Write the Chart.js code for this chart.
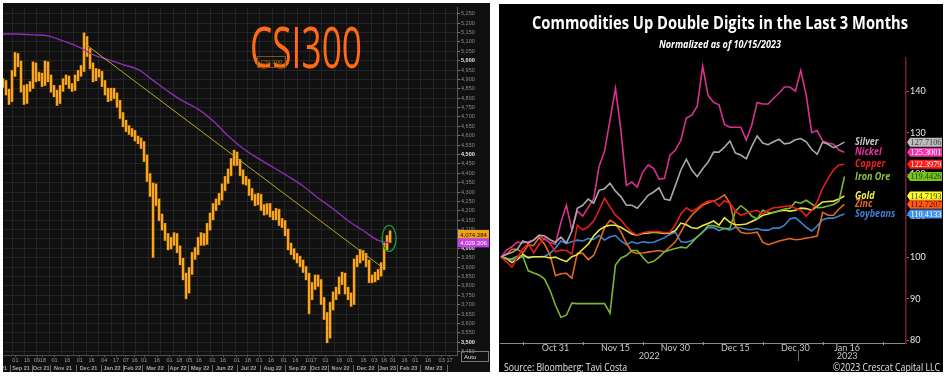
<!DOCTYPE html>
<html>
<head>
<meta charset="utf-8">
<script src="https://cdn.jsdelivr.net/npm/chart.js@4.4.1/dist/chart.umd.min.js"></script>
<style>
  html, body { margin: 0; padding: 0; background: #fff; }
  body { width: 949px; height: 377px; position: relative; overflow: hidden; }
  #csiBox { position: absolute; left: 3px; top: 3px; width: 487px; height: 369px; background: #101010; }
  #comBox { position: absolute; left: 499px; top: 4px; width: 444px; height: 368px; background: #000; }
  canvas { display: block; }
</style>
</head>
<body>
<div id="csiBox"><canvas id="csi" width="487" height="369"></canvas></div>
<div id="comBox"><canvas id="com" width="444" height="368"></canvas></div>
<script>
// ---------- CSI 300 (left panel) ----------
// one bar = about 2.7 trading days, Aug 2021 -> Jan 2023
const csiLow = [4855,4815,4765,4780,4915,4965,4830,4765,4770,4835, 4850,4885,4890,4860,4865,4885,4830,4805,4760,4770,
  4835,4870,4850,4835,4840,4890,4915,4940,5020,4955, 4885,4890,4910,4860,4815,4780,4785,4795,4750,4690,
  4645,4620,4605,4595,4570,4555,4530,4460,4355,4275, 3950,4225,4145,4095,4040,3990,3995,4015,3975,3910,
  3830,3730,3760,3860,3940,3965,4015,4015,4020,4095, 4150,4200,4230,4255,4305,4345,4385,4440,4440,4385,
  4340,4335,4280,4255,4225,4230,4200,4175,4180,4165, 4150,4150,4120,4110,4065,3990,3965,3940,3920,3900,
  3870,3830,3650,3725,3780,3795,3700,3620,3495,3520, 3670,3725,3755,3805,3755,3725,3690,3700,3900,3920,
  3935,3900,3815,3815,3820,3830,3850,3885,3990,4030];
const csiHigh = [4905,4895,4850,4950,5045,5040,5000,4870,4875,4890, 4995,4990,4940,4935,5000,4995,4925,4870,4845,4870,
  4905,4925,4920,4880,4925,4950,4975,5150,5130,5065, 4990,4960,4955,4945,4895,4855,4855,4855,4830,4790,
  4725,4685,4655,4640,4630,4600,4590,4570,4500,4400, 4350,4345,4265,4185,4135,4080,4060,4085,4080,4015,
  3950,3870,3900,3980,4005,4060,4085,4080,4135,4190, 4240,4265,4295,4345,4385,4425,4480,4525,4515,4475,
  4420,4385,4370,4320,4290,4295,4290,4235,4240,4240, 4200,4215,4210,4160,4150,4105,4030,4000,3975,3960,
  3940,3905,3870,3820,3860,3860,3835,3740,3660,3715, 3770,3795,3850,3875,3870,3795,3765,3945,3965,3995,
  3990,3975,3940,3860,3875,3890,3925,4030,4070,4095];
const csiLastClose = 4074.384;
const maIndex = [0,5,10,15,20,25,30,35,40,45,50,55,60,65,70,75,80,85,90,95,100,105,110,115,120,125,129];
const maValues = [5142,5142,5137,5132,5105,5074,5032,5005,4979,4953,4895,4837,4784,4742,4679,4600,4532,4479,4432,4384,4332,4268,4211,4147,4095,4042,4029.306];
const trendIndex = [27.3, 126.7];
const trendValues = [5090, 3895];
const dayTickPos = [2.3,6.3,9.7,11.7,15.7,20,24.3,28.3,32.7,36.7,40,43,46.3,50.7,55,58.3,61.7,65,69.7,73.3,
  78,81.7,85.7,89.7,94,98,102.3,104.3,108.3,113,116.7,121.3,125,128.3,131.3,135.3,139,143.3,148,150.7];
const dayTickLabels = ['01','16','09','18','01','16','01','16','04','17','07','16','01','16','01','18','05','16','01','16',
  '01','18','01','16','01','16','10','17','01','16','01','16','03','16','01','16','01','16','03','17'];
const monthStartPos = [-5.7,2.3,9.7,15.7,24.3,32.7,40,46.3,55,61.7,69.7,78,85.7,94,102.3,108.3,116.7,125,131.3,139,148];
const monthLabels = ['Aug 21','Sep 21','Oct 21','Nov 21','Dec 21','Jan 22','Feb 22','Mar 22','Apr 22','May 22',
  'Jun 22','Jul 22','Aug 22','Sep 22','Oct 22','Nov 22','Dec 22','Jan 23','Feb 23','Mar 23'];

const X_MAX = 151.3;
const Y_MIN = 3432, Y_MAX = 5284;
const isMajor = c => !!(c && c.tick && c.tick.value % 500 === 0);

const csiDecor = {
  id: 'csiDecor',
  afterDraw(chart) {
    const { ctx, chartArea, scales: { x, y } } = chart;
    ctx.save();

    // month row: separators and centred labels
    ctx.strokeStyle = '#6a6a6a';
    ctx.lineWidth = 1;
    ctx.fillStyle = '#a8a8a8';
    ctx.font = 'bold 5.5px "Liberation Sans"';
    ctx.textAlign = 'center';
    ctx.textBaseline = 'middle';
    monthStartPos.forEach((p, i) => {
      const px = Math.round(x.getPixelForValue(p)) + 0.5;
      if (px > 1 && px < chartArea.right) {
        ctx.beginPath(); ctx.moveTo(px, 362); ctx.lineTo(px, 369); ctx.stroke();
      }
      if (i < monthLabels.length) {
        const mid = (p + monthStartPos[i + 1]) / 2;
        ctx.fillText(monthLabels[i], x.getPixelForValue(mid), 365.5);
      }
    });

    // green circle on the breakout
    ctx.strokeStyle = '#1f9a2a';
    ctx.lineWidth = 1.3;
    ctx.beginPath();
    ctx.ellipse(x.getPixelForValue(csiLow.length - 1) - 1, y.getPixelForValue(csiLastClose) + 4, 7, 13, 0, 0, Math.PI * 2);
    ctx.stroke();

    // handwritten label
    ctx.fillStyle = '#ff6a12';
    ctx.font = '56px "Open Sans"';
    ctx.textAlign = 'left';
    ctx.textBaseline = 'alphabetic';
    const hw = 'CSI300';
    const sw = 112 / ctx.measureText(hw).width;
    ctx.save();
    ctx.translate(247, 65);
    ctx.scale(sw, 1);
    ctx.fillText(hw, 0, 0);
    ctx.restore();

    // small legend box
    ctx.strokeStyle = '#7a5412';
    ctx.lineWidth = 1;
    ctx.strokeRect(254.5, 53.5, 28, 11);
    ctx.fillStyle = '#a8741c';
    ctx.font = '6px "Liberation Sans"';
    ctx.textAlign = 'center';
    ctx.textBaseline = 'middle';
    ctx.fillText('CSI 300', 268.5, 59.5);

    // last-value tags
    const tagX = chartArea.right + 1;
    const drawTag = (val, fill, color, text) => {
      const ty = y.getPixelForValue(val);
      ctx.fillStyle = fill;
      ctx.fillRect(tagX, ty - 4.5, 31, 9);
      ctx.fillStyle = color;
      ctx.font = '6px "Liberation Sans"';
      ctx.textAlign = 'center';
      ctx.fillText(text, tagX + 15.5, ty + 0.5);
    };
    drawTag(csiLastClose, '#f0a21c', '#1a1200', csiLastClose.toLocaleString('en-US', { minimumFractionDigits: 3 }));
    const maLast = maValues[maValues.length - 1];
    drawTag(maLast, '#c23ee6', '#ffffff', maLast.toLocaleString('en-US', { minimumFractionDigits: 3 }));

    // Auto box
    ctx.strokeStyle = '#7a7a7a';
    ctx.strokeRect(458.5, 348.5, 27, 10);
    ctx.fillStyle = '#d8d8d8';
    ctx.font = '6px "Liberation Sans"';
    ctx.textAlign = 'left';
    ctx.fillText('Auto', 461, 354);
    ctx.restore();
  }
};

new Chart(document.getElementById('csi').getContext('2d'), {
  type: 'bar',
  data: {
    datasets: [
      {
        type: 'line',
        label: 'Trend',
        data: trendIndex.map((v, i) => ({ x: v, y: trendValues[i] })),
        borderColor: '#b3aa1c',
        borderWidth: 1,
        pointRadius: 0,
        order: 1
      },
      {
        type: 'line',
        label: 'MA',
        data: maIndex.map((v, i) => ({ x: v, y: maValues[i] })),
        borderColor: '#8e2db2',
        borderWidth: 1.4,
        pointRadius: 0,
        cubicInterpolationMode: 'monotone',
        order: 2
      },
      {
        type: 'bar',
        label: 'CSI 300',
        data: csiHigh.map((h, i) => ({ x: i, y: [csiLow[i], h] })),
        backgroundColor: '#f7a71e',
        borderColor: '#9c5c06',
        borderWidth: 0.6,
        borderSkipped: false,
        barThickness: 2.7,
        order: 3
      }
    ]
  },
  options: {
    responsive: false,
    animation: false,
    layout: { padding: 0 },
    plugins: { legend: { display: false }, tooltip: { enabled: false } },
    scales: {
      x: {
        type: 'linear', min: 0, max: X_MAX, offset: false,
        afterBuildTicks: s => {
          const t = [];
          for (let v = 3; v <= X_MAX; v += 4.13) t.push({ value: v });
          s.ticks = t;
        },
        ticks: { display: false },
        grid: { color: '#242424', offset: false, drawTicks: false },
        border: { display: true, color: '#4c4c4c' },
        afterFit: s => { s.height = 0; }
      },
      xd: {
        type: 'linear', position: 'bottom', weight: 1, min: 0, max: X_MAX,
        afterBuildTicks: s => { s.ticks = dayTickPos.map(v => ({ value: v })); },
        ticks: {
          callback: (v, i) => dayTickLabels[i],
          color: '#9a9a9a', font: { family: 'Liberation Sans', size: 5.5 },
          padding: 0, autoSkip: false, maxRotation: 0
        },
        grid: { display: true, drawOnChartArea: false, drawTicks: true, tickLength: 2, tickColor: '#666', offset: false },
        border: { display: false },
        afterFit: s => { s.height = 17; }
      },
      y: {
        position: 'right', min: Y_MIN, max: Y_MAX,
        afterBuildTicks: s => {
          const t = [];
          for (let v = 3450; v <= 5250; v += 50) t.push({ value: v });
          s.ticks = t;
        },
        ticks: {
          autoSkip: false, padding: 1,
          color: c => (isMajor(c) ? '#e4e4e4' : '#8c8c8c'),
          font: c => ({ family: 'Liberation Sans', size: 5.5, weight: isMajor(c) ? 'bold' : 'normal' }),
          callback: v => v.toLocaleString('en-US')
        },
        grid: { color: '#242424', tickLength: 3, tickColor: '#7a7a7a' },
        border: { display: true, color: '#5a5a5a' },
        afterFit: s => { s.width = 33; }
      }
    }
  },
  plugins: [csiDecor]
});

// ---------- Commodities (right panel) ----------
const comNames = ['Silver', 'Nickel', 'Copper', 'Iron Ore', 'Gold', 'Zinc', 'Soybeans'];
const silver = [100,100.7,101.1,101.9,103.9,103.4,104.1,105.3,105.1,104.2,103.6,104.8,103.4,106.3,111.8,112.5,114.0,113.0,116.1,116.5,
  117.8,115.9,114.6,112.5,112.5,111.8,113.3,114.9,115.7,116.7,114.0,113.7,117.3,121.0,123.6,121.0,119.4,121.3,122.9,125.3,
  125.3,126.5,128.0,125.1,124.6,123.7,126.7,129.2,127.5,127.1,127.8,128.4,127.3,127.5,128.3,128.6,127.8,126.0,124.8,127.7,
  127.2,126.4,127.0,127.7106];
const nickel = [100,101.7,102.5,103.6,103.4,103.7,104.1,105.2,104.3,103.5,103.1,108.4,112.5,106.5,111.1,109.9,112.0,114.0,121.9,125.5,
  133.0,140.7,130.6,117.3,118.1,116.9,120.5,122.2,121.4,118.8,119.0,124.6,125.8,128.2,133.5,134.2,136.4,146.0,139.0,137.3,
  136.7,132.0,131.3,131.3,131.3,128.2,131.8,137.3,136.9,136.9,138.3,139.5,141.0,141.0,140.0,145.0,139.0,130.0,130.5,128.0,
  127.5,127.2,125.8,125.3001];
const copper = [100,98.9,97.6,99.8,102.0,103.3,101.0,103.1,104.6,103.3,101.3,101.7,101.6,100.7,107.7,106.6,107.3,108.7,111.3,114.2,
  112.1,110.1,109.0,107.3,106.0,105.3,105.9,106.1,106.1,106.1,105.9,106.0,107.8,110.4,111.9,111.0,111.8,112.8,113.5,113.6,
  112.3,113.6,113.0,111.1,110.1,110.6,111.0,111.3,110.4,111.3,111.9,112.0,112.2,112.4,111.8,111.3,109.9,111.3,113.3,116.6,
  119.0,121.0,122.2,122.3979];
const ironOre = [100,99.5,99.6,100.2,100.2,96.7,96.2,95.7,94.7,92.0,88.4,85.5,86.0,88.9,88.8,88.8,88.8,88.8,88.8,88.8,
  86.5,98.1,99.8,100.4,101.6,101.6,100.0,98.6,99.0,100.0,101.3,101.7,102.1,102.4,102.2,103.5,104.9,106.0,107.6,107.6,
  107.2,106.9,106.9,111.1,112.4,111.4,109.9,109.2,111.3,110.8,110.7,111.2,111.6,111.8,113.3,113.0,113.7,112.8,111.9,112.0,
  112.3,112.7,113.5,119.4426];
const gold = [100,99.7,98.7,99.4,100.7,99.8,100.1,100.1,100.1,99.8,100.0,99.4,98.9,100.1,100.6,101.9,103.1,105.1,106.5,107.3,
  107.7,107.7,107.2,106.4,105.6,105.3,105.7,105.8,106.0,105.9,105.7,105.8,106.4,108.2,107.8,107.1,106.9,107.6,108.1,108.7,
  107.7,109.5,108.4,107.8,107.8,108.0,108.6,109.2,110.1,110.4,110.8,111.1,111.3,111.1,111.3,111.8,111.7,111.3,112.3,113.3,
  113.4,113.5,114.0,114.7193];
const zinc = [100,100.7,101.9,101.9,101.0,102.9,102.8,104.7,103.1,100.5,95.5,96.0,96.1,94.9,100.9,100.9,99.4,100.4,103.6,107.1,
  108.9,108.1,106.1,103.4,101.3,100.9,101.0,101.2,101.4,101.6,101.3,102.5,103.7,106.1,108.4,110.1,111.4,112.5,113.1,113.5,
  114.1,115.0,113.0,107.5,106.0,105.7,105.8,106.0,103.6,103.0,103.4,103.9,104.2,104.5,104.2,104.3,104.6,104.8,105.1,110.8,
  110.1,110.1,111.6,112.7207];
const soybeans = [100,99.7,99.3,99.7,100.1,100.1,100.1,100.1,100.2,100.9,102.2,103.9,103.3,103.7,104.1,103.9,104.5,104.3,105.2,104.1,
  104.9,105.2,103.9,103.0,103.7,103.3,103.7,103.5,103.6,104.1,104.7,105.5,106.0,103.7,103.6,104.0,104.8,106.1,107.1,107.1,
  106.4,106.9,106.5,107.2,107.1,106.7,106.6,106.9,106.5,106.5,107.0,107.0,107.7,109.2,109.5,108.4,107.2,106.3,107.5,109.0,
  109.4,109.4,109.9,110.4133];
const comSeries = [silver, nickel, copper, ironOre, gold, zinc, soybeans];
// x axis: business-day index from 10/14/2022
const xLabelPos = [10, 21, 32, 43, 54, 63.5];
const xLabels = ['Oct 31', 'Nov 15', 'Nov 30', 'Dec 15', 'Dec 30', 'Jan 16'];
const xMinorPos = [4, 15, 26.1, 37.1, 48.1, 59.1, 70.1];
const yearPos = [27.2, 63.5];
const yearLabels = ['2022', '2023'];
const yearBreak = 54.4;

const lineColors = ['#a9a9a9', '#d8328f', '#e41e1e', '#79b631', '#e9e543', '#e3691f', '#3c84d6'];
const nameColors = ['#c4c4c4', '#ea2f9e', '#ef2020', '#8ec43c', '#f2f046', '#ea6a26', '#3f7fd8'];
const tagFills = ['#bdbdbd', '#f033ac', '#ff1a1a', '#76c51f', '#ffff2a', '#ff5a14', '#3e92ee'];
const tagText = ['#3a3a3a', '#ffffff', '#ffffff', '#1d3a06', '#333300', '#3a1400', '#ffffff'];

function fitText(ctx, text, x, y, width, align) {
  const w = ctx.measureText(text).width;
  ctx.save();
  ctx.translate(x, y);
  ctx.scale(width / w, 1);
  ctx.textAlign = align;
  ctx.fillText(text, 0, 0);
  ctx.restore();
}

const comDecor = {
  id: 'comDecor',
  afterDraw(chart) {
    const { ctx, chartArea, scales: { x, y } } = chart;
    ctx.save();
    ctx.textBaseline = 'middle';

    ctx.fillStyle = '#ffffff';
    ctx.font = 'bold 17px "Open Sans"';
    fitText(ctx, 'Commodities Up Double Digits in the Last 3 Months', 221, 20, 376, 'center');

    ctx.font = 'italic bold 10px "Open Sans"';
    fitText(ctx, 'Normalized as of 10/15/2023', 221, 41, 122, 'center');

    ctx.fillStyle = '#e6e6e6';
    ctx.font = '10px "Open Sans"';
    fitText(ctx, 'Source: Bloomberg; Tavi Costa', 5, 364, 123, 'left');
    fitText(ctx, '\u00A92023 Crescat Capital LLC', 441, 364, 107, 'right');

    // year row
    ctx.fillStyle = '#c8c8c8';
    ctx.font = '9px Lato';
    ctx.textAlign = 'center';
    yearPos.forEach((p, i) => ctx.fillText(yearLabels[i], x.getPixelForValue(p), 352));

    // minor ticks on x axis
    ctx.strokeStyle = '#9a9a9a';
    ctx.lineWidth = 1;
    xMinorPos.forEach(p => {
      const px = Math.round(x.getPixelForValue(p)) + 0.5;
      ctx.beginPath(); ctx.moveTo(px, chartArea.bottom - 1); ctx.lineTo(px, chartArea.bottom + 2); ctx.stroke();
    });
    // year break
    const bx = Math.round(x.getPixelForValue(yearBreak)) + 0.5;
    ctx.strokeStyle = '#6c6c6c';
    ctx.beginPath(); ctx.moveTo(bx, chartArea.bottom + 7); ctx.lineTo(bx, chartArea.bottom + 18); ctx.stroke();

    // series names and value tags
    comSeries.forEach((s, i) => {
      const last = s[s.length - 1];
      const ty = y.getPixelForValue(last);
      ctx.fillStyle = nameColors[i];
      ctx.font = 'italic bold 11px "Open Sans"';
      ctx.save();
      ctx.translate(356, ty);
      ctx.scale(0.82, 1);
      ctx.textAlign = 'left';
      ctx.fillText(comNames[i], 0, 0);
      ctx.restore();

      const lx = chartArea.right + 1;
      ctx.beginPath();
      ctx.moveTo(lx, ty);
      ctx.lineTo(lx + 3, ty - 4.5);
      ctx.lineTo(lx + 35, ty - 4.5);
      ctx.lineTo(lx + 35, ty + 4.5);
      ctx.lineTo(lx + 3, ty + 4.5);
      ctx.closePath();
      ctx.fillStyle = tagFills[i];
      ctx.fill();
      ctx.fillStyle = tagText[i];
      ctx.font = '8.5px "Liberation Serif"';
      fitText(ctx, last.toFixed(4), lx + 19, ty + 0.5, 31, 'center');
    });
    ctx.restore();
  }
};

new Chart(document.getElementById('com').getContext('2d'), {
  type: 'line',
  data: {
    datasets: comSeries.map((s, i) => ({
      label: comNames[i],
      data: s.map((v, k) => ({ x: k, y: v })),
      borderColor: lineColors[i],
      borderWidth: 1.6,
      pointRadius: 0,
      tension: 0
    }))
  },
  options: {
    responsive: false,
    animation: false,
    layout: { padding: { top: 54, left: 1, right: 0, bottom: 0 } },
    plugins: { legend: { display: false }, tooltip: { enabled: false } },
    scales: {
      x: {
        type: 'linear', min: -0.18, max: 74.3,
        afterBuildTicks: s => { s.ticks = xLabelPos.map(v => ({ value: v })); },
        ticks: {
          callback: (v, i) => xLabels[i],
          color: '#c8c8c8', font: { family: 'Lato', size: 9 },
          padding: 0, autoSkip: false, maxRotation: 0
        },
        grid: { display: true, drawOnChartArea: false, drawTicks: false },
        border: { display: true, color: '#8a8a8a', width: 1 },
        afterFit: s => { s.height = 29; }
      },
      y: {
        position: 'right', min: 79.3, max: 148,
        ticks: { stepSize: 10, includeBounds: false, color: '#e8e8e8', font: { family: 'Lato', size: 9 }, padding: 1 },
        grid: { display: true, drawOnChartArea: false, drawTicks: true, tickLength: 3, tickColor: '#c04a86' },
        border: { display: true, color: '#7a1a48', width: 1.5 },
        afterFit: s => { s.width = 37; }
      }
    }
  },
  plugins: [comDecor]
});
</script>
</body>
</html>
